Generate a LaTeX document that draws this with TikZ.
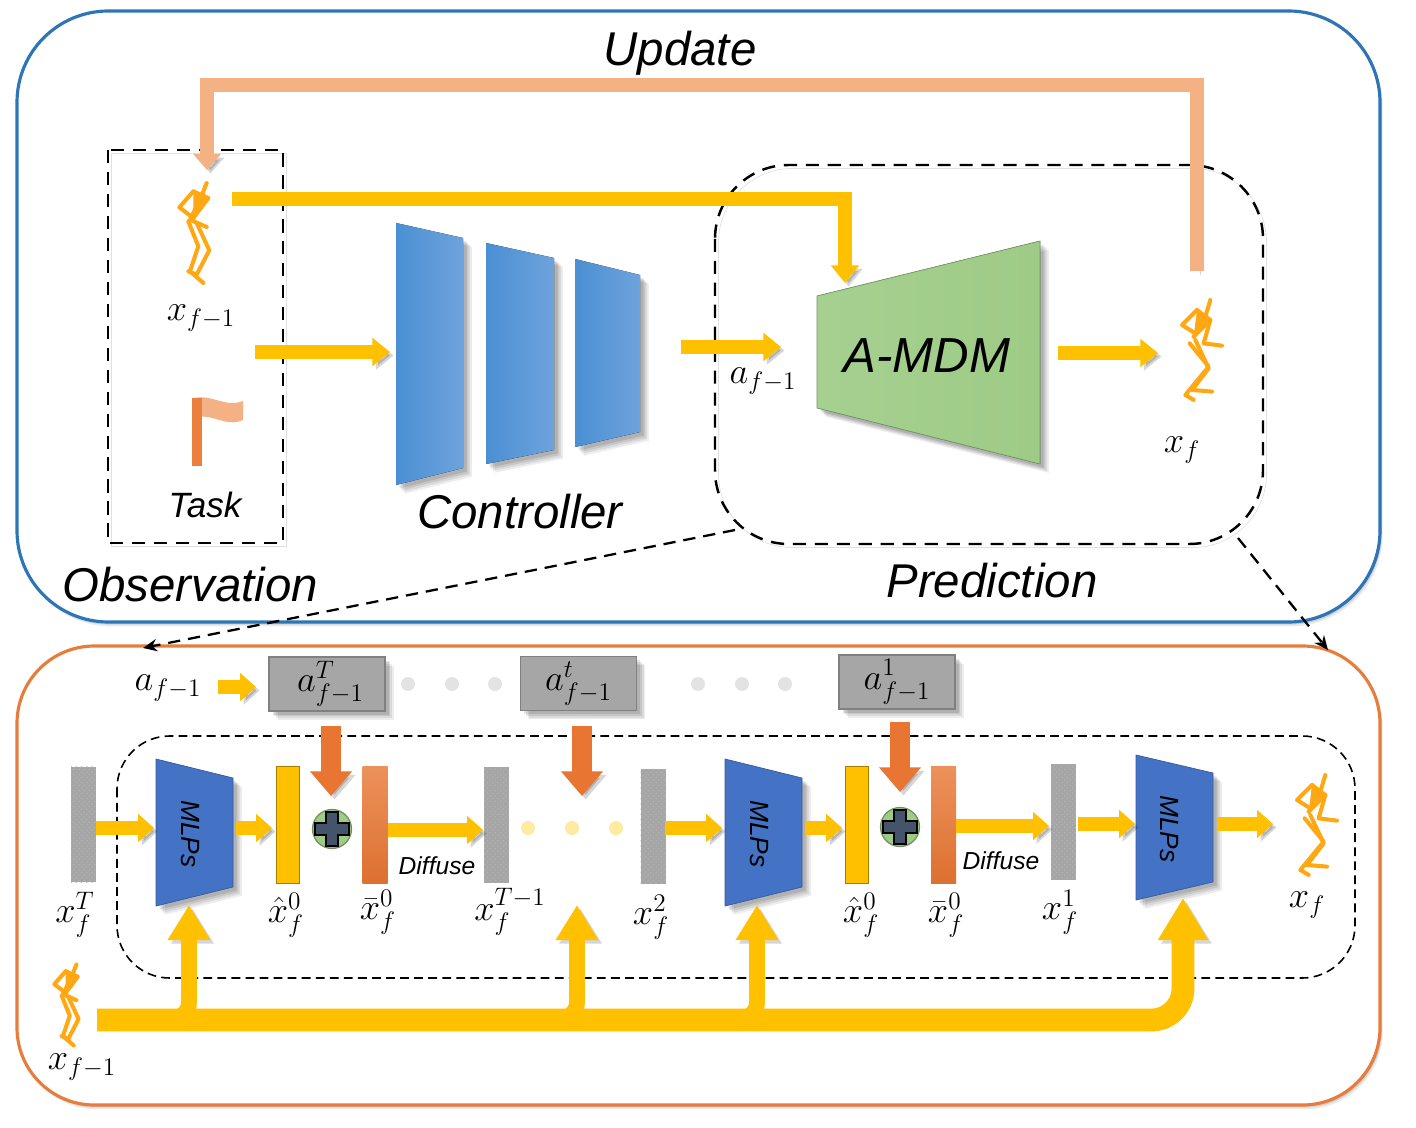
\documentclass[tikz,border=0pt]{standalone}
\usepackage{amsmath}
\usepackage{fontspec}
\setmainfont{Liberation Sans}
\usetikzlibrary{arrows.meta, positioning, patterns, shadows}
\definecolor{framebluec}{RGB}{46, 117, 182}
\definecolor{frameorangec}{RGB}{230, 125, 60}
\definecolor{flowyellow}{RGB}{255, 192, 0}
\definecolor{updatepeach}{RGB}{244, 177, 131}
\definecolor{injectorange}{RGB}{232, 118, 50}
\definecolor{mlpblue}{RGB}{68, 114, 196}
\definecolor{ctrlblueleft}{RGB}{74, 143, 212}
\definecolor{ctrlblueright}{RGB}{110, 163, 220}
\definecolor{boxgrey}{RGB}{166, 166, 166}
\definecolor{poseorange}{RGB}{255, 168, 20}
\definecolor{mdmgreenleft}{RGB}{166, 208, 144}
\definecolor{mdmgreenright}{RGB}{158, 203, 134}
\definecolor{plusslate}{RGB}{68, 84, 106}
\tikzset{
    softshade/.style={
        drop shadow={shadow xshift=5pt, shadow yshift=-5pt, opacity=0.07, fill=black},
        drop shadow={shadow xshift=4pt, shadow yshift=-4pt, opacity=0.08, fill=black},
        drop shadow={shadow xshift=3pt, shadow yshift=-3pt, opacity=0.09, fill=black},
        drop shadow={shadow xshift=2pt, shadow yshift=-2pt, opacity=0.10, fill=black}},
    frameshade/.style={
        drop shadow={shadow xshift=1.5pt, shadow yshift=-2.5pt, opacity=0.08, fill=black},
        drop shadow={shadow xshift=1pt, shadow yshift=-1.5pt, opacity=0.10, fill=black}},
    arrowshade/.style={preaction={draw=black, opacity=0.16, transform canvas={shift={(2pt,-2pt)}}}},
    flow/.style={draw=flowyellow, line width=8pt, arrowshade, -{Triangle[length=10pt, width=15.5pt]}},
    smallflow/.style={draw=flowyellow, line width=8pt, arrowshade, -{Triangle[length=9pt, width=15.5pt]}},
    liftstem/.style={draw=flowyellow, line width=9pt, rounded corners=9pt, arrowshade, -{Triangle[length=20pt, width=23pt]}},
    liftmain/.style={draw=flowyellow, line width=13pt, rounded corners=18pt, arrowshade, -{Triangle[length=24pt, width=27pt]}},
    update/.style={draw=updatepeach, line width=8.5pt, arrowshade, -{Triangle[length=9pt, width=15pt]}},
    inject/.style={draw=injectorange, line width=11.5pt, arrowshade, -{Triangle[length=14pt, width=23pt]}},
    zoomline/.style={draw=black, line width=1.3pt, dash pattern=on 7pt off 4.5pt, -{Stealth[length=8pt, width=7pt]}},
    boxdash/.style={draw=black, line width=1.4pt, dash pattern=on 7.5pt off 5pt, preaction={draw=black, opacity=0.12, transform canvas={shift={(2pt,-2pt)}}}},
    finedash/.style={draw=black, line width=0.9pt, dash pattern=on 5pt off 3pt},
    caption/.style={font=\fontsize{27}{30}\itshape},
    mathlabel/.style={font=\fontsize{22}{24}\selectfont, inner sep=0pt},
    tasklabel/.style={font=\fontsize{20}{24}\itshape},
    difflabel/.style={font=\fontsize{14}{16}\itshape, inner sep=0pt},
    mlplabel/.style={font=\fontsize{15}{18}\itshape, rotate=-90},
    noisebar/.style={fill=boxgrey, minimum width=0.5cm, minimum height=2.32cm, inner sep=0pt, postaction={pattern=crosshatch dots, pattern color=black!30}},
    predbar/.style={fill=flowyellow, draw=flowyellow!65!black, line width=1pt, minimum width=0.46cm, minimum height=2.34cm, inner sep=0pt},
    mixbar/.style={top color=injectorange!80!white, bottom color=injectorange!95!black, minimum width=0.5cm, minimum height=2.36cm, inner sep=0pt},
    actionbox/.style={fill=boxgrey, draw=black!50, line width=1pt, minimum width=2.32cm, minimum height=1.08cm, inner sep=0pt, font=\fontsize{22}{24}\selectfont, softshade},
    greydot/.style={circle, fill=black!11, minimum size=0.28cm, inner sep=0pt},
    paledot/.style={circle, fill=yellow!60!orange!35, minimum size=0.28cm, inner sep=0pt},
    addball/.style={circle, fill=mdmgreenright, draw=mdmgreenright!70!black, line width=0.7pt, minimum size=0.78cm, inner sep=0pt},
    posepen/.style={draw=poseorange, line width=2.3pt, line join=round, line cap=round},
    walkera/.pic={
        \fill[poseorange] (-5,-125) -- (40,-105) -- (-5,-45) -- cycle;
        \draw[posepen] (35,-150) -- (15,-100) -- (-15,-40) -- (35,-18);
        \draw[posepen] (-5,-125) -- (-47,-77) -- (-5,-45);
        \draw[posepen] (-5,-125) -- (40,-105) -- (-5,-45);
        \draw[posepen] (-20,-35) -- (10,40) -- (-15,115) -- (25,150);
        \draw[posepen] (5,-30) -- (43,52) -- (5,125) -- (-20,115);
    },
    walkerb/.pic={
        \fill[poseorange] (0,-120) -- (40,-90) -- (-10,-40) -- cycle;
        \draw[posepen] (40,-150) -- (25,-100) -- (-10,-40);
        \draw[posepen] (0,-120) -- (-45,-75) -- (-5,-50);
        \draw[posepen] (0,-120) -- (40,-90) -- (-10,-40);
        \draw[posepen] (40,-90) -- (20,-20) -- (75,-13);
        \draw[posepen] (-22,-20) -- (35,50) -- (-35,135) -- (-10,150);
        \draw[posepen] (-5,-30) -- (35,55) -- (-15,120) -- (45,125);
    },
    plusmark/.pic={
        \filldraw[fill=plusslate, draw=black, line width=1.1pt]
            (-6,-17) -- (6,-17) -- (6,-6) -- (17,-6) -- (17,6) -- (6,6) -- (6,17)
            -- (-6,17) -- (-6,6) -- (-17,6) -- (-17,-6) -- (-6,-6) -- cycle;
    },
}
\begin{document}
\begin{tikzpicture}[x=0.02cm, y=-0.02cm]
    \useasboundingbox (0,0) rectangle (1416,1128);

    % frames
    \draw[framebluec, line width=1.8pt, rounded corners=52pt, fill=white, frameshade] (17,11) rectangle (1380,622);
    \draw[frameorangec, line width=1.8pt, rounded corners=44pt, fill=white, frameshade] (17,646) rectangle (1380,1105);

    \node[caption] (updatetext) at (680,53) {Update};
    \node[caption] (controllertext) at (520,512) {Controller};
    \node[caption] (obstext) at (190,585) {Observation};
    \node[caption] (predtext) at (992,581) {Prediction};

    \draw[boxdash] (108,150) rectangle (283,543);
    \draw[boxdash, rounded corners=42pt] (715,165) rectangle (1263,544);

    % controller
    \fill[left color=ctrlblueleft, right color=ctrlblueright, softshade] (396,223) -- (463,238) -- (463,468) -- (396,485) -- cycle;
    \fill[left color=ctrlblueleft, right color=ctrlblueright, softshade] (486,243) -- (554,258) -- (554,450) -- (486,464) -- cycle;
    \fill[left color=ctrlblueleft, right color=ctrlblueright, softshade] (575,259) -- (640,275) -- (640,432) -- (575,447) -- cycle;

    % a-mdm
    \filldraw[left color=mdmgreenleft, right color=mdmgreenright, draw=mdmgreenright!75!black, softshade] (817,296) -- (1040,241) -- (1040,464) -- (817,408) -- cycle;
    \node[font=\fontsize{28}{32}\itshape] (amdmtext) at (927,356) {A-MDM};

    \coordinate (poseout) at (232,199);
    \coordinate (amdmin) at (845,283);
    \coordinate (obsout) at (255,352);
    \coordinate (ctrlin) at (390,352);
    \coordinate (ctrlout) at (681,347);
    \coordinate (amdmact) at (781,347);
    \coordinate (amdmout) at (1058,353);
    \coordinate (posenew) at (1158,353);
    \coordinate (updatefrom) at (1197,271);
    \coordinate (updatecorner) at (207,85);
    \coordinate (updateto) at (207,170);

    \draw[update] (updatefrom) |- (updatecorner) -- (updateto);
    \draw[flow] (poseout) -| (amdmin);
    \draw[flow] (obsout) -- (ctrlin);
    \draw[flow] (ctrlout) -- (amdmact);
    \draw[flow] (amdmout) -- (posenew);

    \pic (poseprev) at (195,233) [scale=0.333] {walkera};
    \pic (posecur) at (1197,350) [scale=0.333] {walkerb};
    \node[mathlabel] (xprev) at (201,318) {$x_{f-1}$};
    \node[mathlabel] (xcur) at (1182,450) {$x_f$};
    \node[mathlabel] (aprev) at (763,381) {$a_{f-1}$};
    \node[tasklabel] (tasktext) at (205,505) {Task};

    % flag
    \fill[updatepeach] (195,398) .. controls (212,394) and (225,408) .. (243,401) -- (243,420) .. controls (225,428) and (212,412) .. (195,418) -- cycle;
    \fill[injectorange!85!updatepeach] (192,398) rectangle (202,466);

    % zoom lines
    \coordinate (predleft) at (735,530);
    \coordinate (predright) at (1238,538);
    \coordinate (lowleft) at (143,648);
    \coordinate (lowright) at (1328,650);
    \draw[zoomline] (predleft) -- (lowleft);
    \draw[zoomline] (predright) -- (lowright);

    % denoising chain
    \draw[finedash, rounded corners=30pt] (117,736) rectangle (1355,978);

    \node[mathlabel] (acond) at (168,688) {$a_{f-1}$};
    \coordinate (acondout) at (218,687);
    \coordinate (acondin) at (256,687);
    \draw[smallflow] (acondout) -- (acondin);

    \node[actionbox] (actT) at (327,684) {\hspace{4pt}$a_{f-1}^{T}$};
    \node[actionbox] (actt) at (578.5,683.5) {$a_{f-1}^{t}$};
    \node[actionbox] (actone) at (897,682) {$a_{f-1}^{1}$};

    \foreach \dotx in {408,452,495,698,742,785}
        \node[greydot] (gdot\dotx) at (\dotx,684) {};
    \foreach \dotx in {528,572,616}
        \node[paledot] (pdot\dotx) at (\dotx,828) {};

    \coordinate (injAfrom) at (331,726);
    \coordinate (injAto) at (331,796);
    \coordinate (injBfrom) at (582,726);
    \coordinate (injBto) at (582,796);
    \coordinate (injCfrom) at (900,722);
    \coordinate (injCto) at (900,792);
    \draw[inject] (injAfrom) -- (injAto);
    \draw[inject] (injBfrom) -- (injBto);
    \draw[inject] (injCfrom) -- (injCto);

    \node[noisebar] (noiseT) at (83.5,824.5) {};
    \node[noisebar] (noiseTm) at (496.5,825) {};
    \node[noisebar] (noisetwo) at (653,826.5) {};
    \node[noisebar] (noiseone) at (1063.5,822) {};

    \filldraw[fill=mlpblue, draw=mlpblue!80!black, softshade] (156,759) -- (233,778) -- (233,887) -- (156,906) -- cycle;
    \filldraw[fill=mlpblue, draw=mlpblue!80!black, softshade] (725,759) -- (802,778) -- (802,887) -- (725,906) -- cycle;
    \filldraw[fill=mlpblue, draw=mlpblue!80!black, softshade] (1136,755) -- (1213,773) -- (1213,882) -- (1136,900) -- cycle;
    \node[mlplabel] (mlpAtext) at (190,834) {MLPs};
    \node[mlplabel] (mlpBtext) at (759,834) {MLPs};
    \node[mlplabel] (mlpCtext) at (1169,829) {MLPs};

    \node[predbar] (predA) at (288,825) {};
    \node[predbar] (predB) at (857,825) {};
    \node[mixbar] (mixA) at (375,825) {};
    \node[mixbar] (mixB) at (943.5,825) {};

    \node[addball] (addA) at (332,829) {};
    \node[addball] (addB) at (900,827) {};
    \pic (plusA) at (332,829) {plusmark};
    \pic (plusB) at (900,827) {plusmark};

    \coordinate (posefinal) at (1273,824);
    \coordinate (mlpAin) at (154,828);
    \coordinate (mlpAout) at (236,828);
    \coordinate (predAin) at (272,828);
    \coordinate (noiseTmin) at (483,830);
    \coordinate (mlpBfrom) at (665,828);
    \coordinate (mlpBin) at (722,828);
    \coordinate (mlpBout) at (805,828);
    \coordinate (predBin) at (842,828);
    \coordinate (noiseonein) at (1049,826);
    \coordinate (mlpCfrom) at (1078,824);
    \coordinate (mlpCin) at (1135,824);
    \coordinate (mlpCout) at (1217,824);
    \draw[smallflow] (noiseT.east |- mlpAin) -- (mlpAin);
    \draw[smallflow] (mlpAout) -- (predAin);
    \draw[smallflow] (mixA.east |- noiseTmin) -- (noiseTmin);
    \draw[smallflow] (mlpBfrom) -- (mlpBin);
    \draw[smallflow] (mlpBout) -- (predBin);
    \draw[smallflow] (mixB.east |- noiseonein) -- (noiseonein);
    \draw[smallflow] (mlpCfrom) -- (mlpCin);
    \draw[smallflow] (mlpCout) -- (posefinal);

    \node[difflabel] (diffA) at (437,866) {Diffuse};
    \node[difflabel] (diffB) at (1001,861) {Diffuse};

    \node[mathlabel] (lxT) at (75,915) {$x_f^{T}$};
    \node[mathlabel] (lhatA) at (286,915) {$\hat{x}_f^{0}$};
    \node[mathlabel] (lbarA) at (378,912) {$\bar{x}_f^{0}$};
    \node[mathlabel] (lxTm) at (510,912) {$x_f^{T-1}$};
    \node[mathlabel] (lxtwo) at (651,917) {$x_f^{2}$};
    \node[mathlabel] (lhatB) at (861,915) {$\hat{x}_f^{0}$};
    \node[mathlabel] (lbarB) at (946,915) {$\bar{x}_f^{0}$};
    \node[mathlabel] (lxone) at (1060,912) {$x_f^{1}$};
    \node[mathlabel] (lxf) at (1307,905) {$x_f$};
    \node[mathlabel] (lxprev) at (82,1067) {$x_{f-1}$};

    \pic (posefinalfig) at (1312,825) [scale=0.333] {walkerb};
    \pic (poselow) at (67,1005) [scale=0.27] {walkera};

    % pose condition
    \coordinate (hip) at (97,1020);
    \coordinate (hipA) at (150,1018);
    \coordinate (hipB) at (535,1018);
    \coordinate (hipC) at (715,1018);
    \coordinate (mlpAup) at (189,905);
    \coordinate (mlpBup) at (577,905);
    \coordinate (mlpCup) at (757,905);
    \coordinate (mlpDup) at (1183,898);
    \draw[liftstem] (hipA) -| (mlpAup);
    \draw[liftstem] (hipB) -| (mlpBup);
    \draw[liftstem] (hipC) -| (mlpCup);
    \draw[liftmain] (hip) -| (mlpDup);
\end{tikzpicture}
\end{document}
